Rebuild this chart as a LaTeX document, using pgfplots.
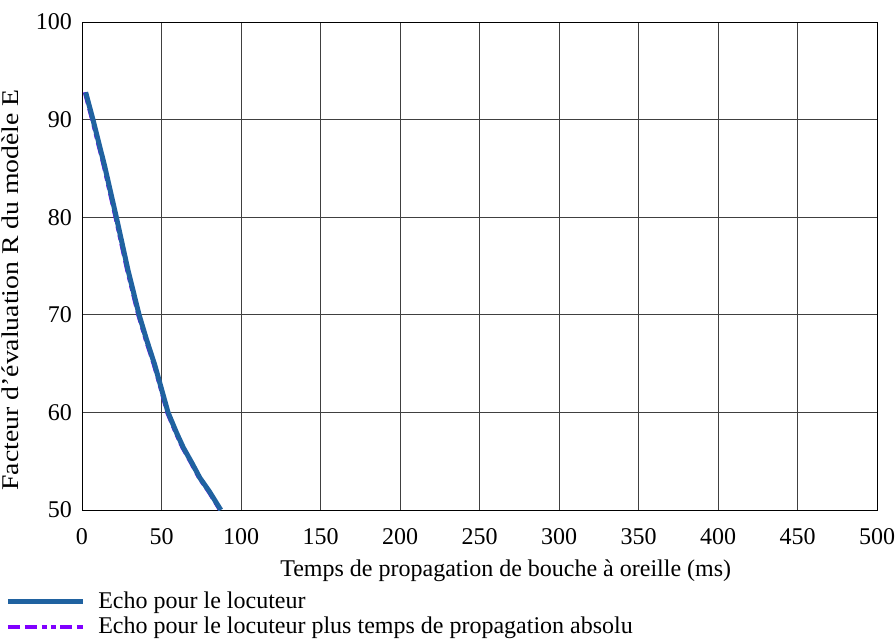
\documentclass[border=0pt]{standalone}
\usepackage{fontspec}
\setmainfont{Liberation Serif}
\usepackage{graphicx}
\usepackage{pgfplots}
\pgfplotsset{compat=1.18}

\definecolor{echoblue}{HTML}{2062A0}
\definecolor{echoviolet}{HTML}{8000FF}

\newcommand{\chartfont}{\fontsize{24bp}{28bp}\selectfont}

\begin{document}
\chartfont
\begin{tikzpicture}
\begin{axis}[
  name=ax,
  scale only axis,
  width=795bp, height=488bp,
  xmin=0, xmax=500, ymin=50, ymax=100,
  xtick={0,50,...,500}, ytick={50,60,...,100},
  grid=major,
  major grid style={black!75, line width=0.8pt},
  axis line style={black, line width=0.8pt},
  major tick length=0pt,
  xticklabel={\pgfmathprintnumber[assume math mode=true]{\tick}},
  yticklabel={\pgfmathprintnumber[assume math mode=true]{\tick}},
  ticklabel style={font=\chartfont},
  xticklabel style={yshift=-10bp},
  yticklabel style={xshift=-2bp},
  label style={font=\chartfont},
  xlabel={Temps de propagation de bouche à oreille (ms)},
  ylabel={\scalebox{1.155}[1]{Facteur d'évaluation R du modèle E}},
  every axis x label/.style={at={(axis description cs:0.533,-0.125)}, anchor=center},
  every axis y label/.style={at={(axis description cs:-0.0906,0.451)}, rotate=90, anchor=center},
  legend style={at={(-0.1005,-0.159)}, anchor=north west, draw=none, fill=none,
    font=\chartfont, row sep=0.5bp,
    /tikz/every odd column/.append style={column sep=11bp}},
  legend cell align=left,
  legend image code/.code={\draw[#1] (0bp,0bp) -- (75bp,0bp);},
]
\addlegendimage{echoblue, line width=5bp}
\addlegendentry{Echo pour le locuteur}
\addlegendimage{echoviolet, line width=4bp, dash pattern=on 12bp off 5bp on 12bp off 5bp on 5bp off 4bp on 5bp off 4bp}
\addlegendentry{Echo pour le locuteur plus temps de propagation absolu}

% talker echo plus absolute delay
\addplot[echoviolet, line width=3.5bp, forget plot,
  dash pattern=on 12bp off 5bp on 12bp off 5bp on 5bp off 4bp on 5bp off 4bp]
  coordinates {
  (1.6,92.8) (6.2,90.0) (13.6,85.2) (20.9,80.0) (28.2,74.6) (35.2,70.0)
  (40.0,67.4) (45.0,64.9) (49.4,62.4) (53.4,60.0) (58.8,57.9) (63.0,56.4)
  (68.5,54.8) (73.4,53.3) (79.4,51.9) (86.6,50.0)
};

% talker echo
\addplot[echoblue, line width=5bp, forget plot] coordinates {
  (2.3,92.8) (6.9,90.0) (14.3,85.2) (21.6,80.0) (28.9,74.6) (35.9,70.0)
  (40.7,67.4) (45.7,64.9) (50.0,62.4) (54.1,60.0) (59.5,57.9) (63.7,56.4)
  (69.2,54.8) (74.1,53.3) (80.1,51.9) (87.3,50.0)
};
\end{axis}
% page frame: fixed margins around the plot area
\pgfresetboundingbox
\path[use as bounding box] ([shift={(-82bp,-134bp)}]ax.south west) rectangle ([shift={(19bp,22bp)}]ax.north east);
\end{tikzpicture}
\end{document}
